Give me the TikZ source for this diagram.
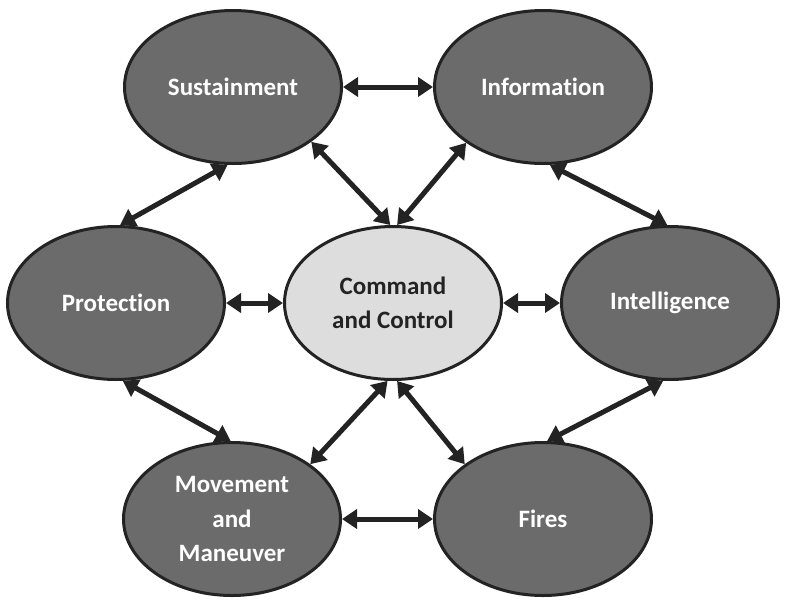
\documentclass[tikz,border=0pt]{standalone}
\usepackage{fontspec}
\setmainfont[Ligatures=NoCommon]{Carlito}
\usetikzlibrary{arrows.meta,shapes.geometric}
\definecolor{darkfill}{HTML}{6B6B6B}
\definecolor{lightfill}{HTML}{DDDDDD}
\definecolor{edge}{HTML}{232323}
\begin{document}
\begin{tikzpicture}[x=1pt,y=-1pt,
  fn/.style={ellipse,draw=edge,line width=3pt,fill=darkfill,minimum width=217pt,minimum height=153pt,inner sep=0pt,
    text=white,font=\bfseries\fontsize{25}{34.5}\selectfont,align=center},
  cn/.style={fn,fill=lightfill,text=edge},
  link/.style={draw=edge,line width=5pt,{Triangle[length=15pt,width=19pt]}-{Triangle[length=15pt,width=19pt]},shorten <=0pt,shorten >=0pt}]
\useasboundingbox (0,0) rectangle (790,606);
\node[fn] (sus) at (233,87) {Sustainment};
\node[fn] (inf) at (543,87) {Information};
\node[fn] (pro) at (116,303) {Protection};
\node[cn] (c2) at (393,303) {Command\\and Control};
\node[fn] (int) at (670,303) {Intelligence};
\node[fn] (mov) at (232,519) {Movement\\and\\Maneuver};
\node[fn] (fir) at (543,519) {Fires};
\draw[link] (sus.east) -- (inf.west);
\draw[link] (sus.266) -- (pro.87);
\draw[link] (sus.325) -- (c2.92);
\draw[link] (inf.216) -- (c2.87);
\draw[link] (inf.275) -- (int.92);
\draw[link] (pro.east) -- (c2.west);
\draw[link] (c2.east) -- (int.west);
\draw[link] (pro.275) -- (mov.91);
\draw[link] (mov.35) -- (c2.266);
\draw[link] (c2.273) -- (fir.145);
\draw[link] (int.265) -- (fir.87);
\draw[link] (mov.east) -- (fir.west);
\end{tikzpicture}
\end{document}
